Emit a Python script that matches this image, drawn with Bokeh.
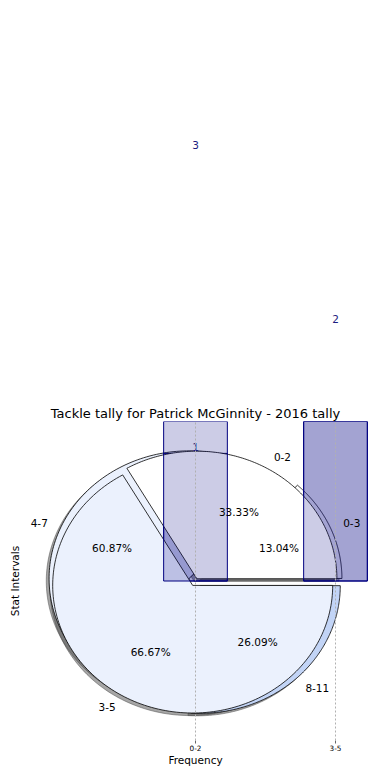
import numpy as np
from bokeh.plotting import figure
from bokeh.layouts import column
from bokeh.models import Range1d, FixedTicker
from bokeh.core.properties import value
from bokeh.embed import file_html
from bokeh.resources import INLINE

# ---------------- data ----------------
categories = ["0-2", "3-5"]
tackles_under = [1, 2]
tackles_over = [3, 2]
under_label_text = ["1", "2"]
over_label_text = ["3", ""]

pie_a_labels = ["0-2", "3-5"]
pie_a_values = [1, 2]
pie_b_labels = ["0-3", "4-7", "8-11"]
pie_b_values = [3, 14, 6]

chart_title = "Tackle tally for Patrick McGinnity - 2016 tally"
x_label = "Frequency"
y_label = "Stat Intervals"

# ---------------- styles ----------------
FONT = "DejaVu Sans"
pie_a_colors = ["#ffffff", "#ebf1fd"]
pie_a_explode = [0.02, 0.04]
pie_b_colors = ["#ffffff", "#ebf1fd", "#c2d4f6"]
pie_b_explode = [0.05, 0.05, 0.05]
bar_color = "navy"
bar_alpha = 0.2
bar_width = 0.455
label_color = "#1c1c80"
under_pad = 0.05
over_pad = 0.42

W = 390
FRAME_W = 350
FRAME_H = 319
BORDER_L = 20
TOP_BORDER = 30      # room for the title above the main frame
BOTTOM_BORDER = 40
LIM = 1.25
px_per_unit = FRAME_H / (2 * LIM)
main_h = TOP_BORDER + FRAME_H + BOTTOM_BORDER
top_h = 780 - main_h

x_range = Range1d(-LIM, LIM)

# ---------------- main figure ----------------
p = figure(frame_width=FRAME_W, frame_height=FRAME_H,
           x_range=x_range, y_range=Range1d(-LIM, LIM),
           output_backend="svg", toolbar_location=None,
           min_border_left=BORDER_L, min_border_right=W - BORDER_L - FRAME_W,
           min_border_top=TOP_BORDER, min_border_bottom=BOTTOM_BORDER)
p.outline_line_color = None

# ---------------- top strip (bar labels above the axes) ----------------
y_top0 = LIM + TOP_BORDER / px_per_unit
t = figure(frame_width=FRAME_W, frame_height=top_h,
           x_range=x_range, y_range=Range1d(y_top0, y_top0 + top_h / px_per_unit),
           output_backend="svg", toolbar_location=None,
           x_axis_type=None, y_axis_type=None,
           min_border_left=BORDER_L, min_border_right=W - BORDER_L - FRAME_W,
           min_border_top=0, min_border_bottom=0)
t.outline_line_color = None
t.xgrid.grid_line_color = None
t.ygrid.grid_line_color = None


def wedges(values, explode):
    total = float(sum(values))
    out = []
    start = 0.0
    for v, e in zip(values, explode):
        sweep = 360.0 * v / total
        t1, t2 = start, start + sweep
        mid = np.deg2rad((t1 + t2) / 2.0)
        cx, cy = e * np.cos(mid), e * np.sin(mid)
        th = np.deg2rad(np.linspace(t1, t2, 160))
        xs = np.concatenate([[cx], cx + np.cos(th), [cx]])
        ys = np.concatenate([[cy], cy + np.sin(th), [cy]])
        out.append(dict(xs=xs, ys=ys, cx=cx, cy=cy, mid=mid,
                        pct=100.0 * v / total))
        start = t2
    return out


def draw_shadows(ws):
    p.patches(xs=[list(w["xs"] - 0.02) for w in ws],
              ys=[list(w["ys"] - 0.02) for w in ws],
              fill_color="#4d4d4d", fill_alpha=0.5,
              line_color="#4d4d4d", line_alpha=0.5, line_width=1)


def draw_wedges(ws, colors):
    p.patches(xs=[list(w["xs"]) for w in ws], ys=[list(w["ys"]) for w in ws],
              fill_color=colors, line_color="black", line_width=0.8)


def pie_texts(ws, labels):
    lx, ly, la, px, py, pt = [], [], [], [], [], []
    for w, lab in zip(ws, labels):
        x = w["cx"] + 1.1 * np.cos(w["mid"])
        y = w["cy"] + 1.1 * np.sin(w["mid"])
        lx.append(x); ly.append(y)
        la.append("left" if x > 0 else "right")
        px.append(w["cx"] + 0.6 * np.cos(w["mid"]))
        py.append(w["cy"] + 0.6 * np.sin(w["mid"]))
        pt.append("%.2f%%" % w["pct"])
    p.text(x=lx, y=ly, text=labels, text_align=la, text_baseline="middle",
           text_font=value(FONT), text_font_size="10.5px", text_color="black")
    p.text(x=px, y=py, text=pt, text_align="center", text_baseline="middle",
           text_font=value(FONT), text_font_size="10.5px", text_color="black")


xpos = list(range(len(categories)))
ws_a = wedges(pie_a_values, pie_a_explode)
ws_b = wedges(pie_b_values, pie_b_explode)

# layer order: all shadows, pie B, bars (under), pie A, bars (over)
draw_shadows(ws_b)
draw_shadows(ws_a)
draw_wedges(ws_b, pie_b_colors)
p.vbar(x=xpos, top=tackles_under, bottom=0, width=bar_width,
       fill_color=bar_color, fill_alpha=bar_alpha, line_color=bar_color, line_width=1)
draw_wedges(ws_a, pie_a_colors)
p.vbar(x=xpos, top=tackles_over, bottom=0, width=bar_width,
       fill_color=bar_color, fill_alpha=bar_alpha, line_color=bar_color, line_width=1)

pie_texts(ws_b, pie_b_labels)
pie_texts(ws_a, pie_a_labels)

# bar value labels: each drawn in the panel whose area it falls in
label_x, label_y, label_t = [], [], []
for vals, texts, pad in ((tackles_under, under_label_text, under_pad),
                         (tackles_over, over_label_text, over_pad)):
    for xi, v, s in zip(xpos, vals, texts):
        if s:
            label_x.append(xi); label_y.append(v + pad); label_t.append(s)
split = (LIM + y_top0) / 2.0
for fig, keep in ((p, lambda y: y < split), (t, lambda y: y >= split)):
    idx = [i for i, y in enumerate(label_y) if keep(y)]
    if idx:
        fig.text(x=[label_x[i] for i in idx], y=[label_y[i] for i in idx],
                 text=[label_t[i] for i in idx],
                 text_align="center", text_baseline="middle", text_font=value(FONT),
                 text_font_size="10.5px", text_color=label_color)

# axes
p.xaxis.ticker = FixedTicker(ticks=xpos)
p.xaxis.major_label_overrides = {i: c for i, c in enumerate(categories)}
p.xaxis.axis_line_color = None
p.xaxis.major_tick_in = 0
p.xaxis.major_tick_out = 3
p.xaxis.major_tick_line_color = "#666666"
p.xaxis.minor_tick_line_color = None
p.xaxis.major_label_standoff = 1
p.xaxis.major_label_text_font = FONT
p.xaxis.major_label_text_font_size = "7.3px"
p.xaxis.major_label_text_color = "black"
p.xaxis.axis_label = x_label
p.xaxis.axis_label_standoff = 0
p.xaxis.axis_label_text_font = FONT
p.xaxis.axis_label_text_font_size = "10.5px"
p.xaxis.axis_label_text_font_style = "normal"
p.xaxis.axis_label_text_color = "black"

p.yaxis.ticker = FixedTicker(ticks=[])
p.yaxis.axis_line_color = None
p.yaxis.major_tick_line_color = None
p.yaxis.minor_tick_line_color = None
p.yaxis.axis_label = y_label
p.yaxis.axis_label_standoff = 0
p.yaxis.axis_label_text_font = FONT
p.yaxis.axis_label_text_font_size = "10.5px"
p.yaxis.axis_label_text_font_style = "normal"
p.yaxis.axis_label_text_color = "black"

p.ygrid.grid_line_color = None
p.xgrid.ticker = FixedTicker(ticks=xpos)
p.xgrid.grid_line_color = "#b0b0b0"
p.xgrid.grid_line_dash = "2 2"
p.xgrid.grid_line_width = 1
p.xgrid.level = "overlay"

p.title.text = chart_title
p.title.align = "center"
p.title.text_font = FONT
p.title.text_font_size = "13px"
p.title.text_font_style = "normal"
p.title.text_color = "black"
p.title.standoff = 2

layout = column(t, p, spacing=0)
open("out.html", "w").write(file_html(layout, INLINE))
